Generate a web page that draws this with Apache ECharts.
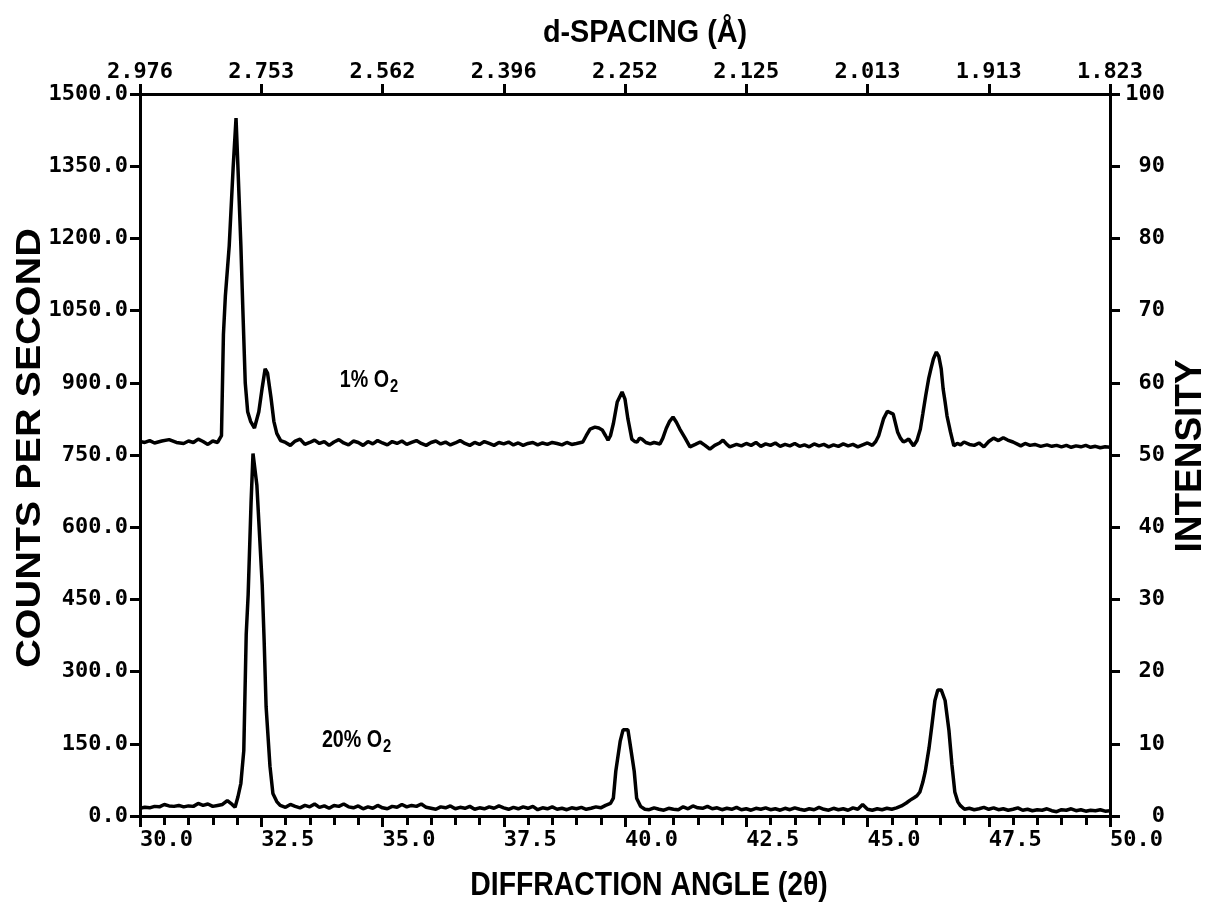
<!DOCTYPE html>
<html><head><meta charset="utf-8">
<script src="https://cdn.jsdelivr.net/npm/echarts@6/dist/echarts.min.js"></script>
<style>html,body{margin:0;padding:0;background:#fff}#c{width:1218px;height:907px}</style>
</head><body><div id="c"></div>
<script>
// 1% O2 pattern: [2-theta (deg), counts per second]
const onePctO2 = [
[30.0,778],[30.1,776],[30.2,780],[30.3,775],[30.45,779],[30.6,782],[30.75,776],[30.9,774],[31.0,779],[31.1,776],
[31.2,783],[31.3,778],[31.4,772],[31.5,779],[31.6,776],[31.68,790],[31.72,1000],[31.76,1080],[31.84,1185],[31.92,1346],
[31.98,1450],[32.02,1346],[32.08,1185],[32.12,1054],[32.17,900],[32.22,840],[32.28,820],[32.36,806],[32.45,840],[32.52,890],
[32.58,929],[32.63,920],[32.7,870],[32.76,820],[32.82,795],[32.9,780],[33.0,776],[33.1,770],[33.2,779],[33.3,783],
[33.4,772],[33.5,776],[33.6,781],[33.7,774],[33.8,778],[33.9,770],[34.0,777],[34.1,782],[34.2,775],[34.3,771],
[34.4,779],[34.5,776],[34.6,770],[34.7,778],[34.8,773],[34.9,780],[35.0,775],[35.1,771],[35.2,778],[35.3,774],
[35.4,779],[35.5,772],[35.6,776],[35.7,780],[35.8,774],[35.9,770],[36.0,776],[36.1,779],[36.2,773],[36.3,777],
[36.4,771],[36.5,775],[36.6,780],[36.7,774],[36.8,770],[36.9,776],[37.0,772],[37.1,778],[37.2,774],[37.3,770],
[37.4,776],[37.5,773],[37.6,777],[37.7,771],[37.8,775],[37.9,770],[38.0,774],[38.1,776],[38.2,771],[38.3,775],
[38.4,772],[38.5,776],[38.6,774],[38.7,771],[38.8,776],[38.9,772],[39.0,774],[39.13,777],[39.2,790],[39.28,804],
[39.38,808],[39.46,806],[39.53,802],[39.6,790],[39.65,781],[39.7,790],[39.76,815],[39.84,860],[39.94,881],[40.0,866],
[40.06,825],[40.14,783],[40.2,778],[40.25,777],[40.3,785],[40.35,783],[40.43,776],[40.52,773],[40.6,776],[40.72,773],
[40.78,785],[40.85,805],[40.92,820],[40.99,829],[41.06,818],[41.13,804],[41.24,785],[41.34,767],[41.45,772],[41.55,777],
[41.65,770],[41.75,762],[41.85,770],[41.95,775],[42.02,781],[42.1,772],[42.16,767],[42.3,772],[42.4,769],[42.5,774],
[42.6,770],[42.7,776],[42.8,768],[42.9,773],[43.0,770],[43.1,775],[43.2,768],[43.3,772],[43.4,769],[43.5,774],
[43.6,768],[43.7,771],[43.8,767],[43.9,773],[44.0,769],[44.1,772],[44.2,767],[44.3,771],[44.4,768],[44.5,773],
[44.6,769],[44.7,772],[44.8,767],[44.9,771],[45.0,775],[45.1,770],[45.17,778],[45.23,790],[45.33,825],[45.41,841],
[45.53,835],[45.62,798],[45.68,785],[45.74,777],[45.8,780],[45.85,783],[45.95,769],[46.02,780],[46.09,804],[46.14,835],
[46.2,873],[46.26,908],[46.31,930],[46.36,950],[46.42,964],[46.47,955],[46.52,929],[46.56,887],[46.6,860],[46.64,831],
[46.71,798],[46.78,769],[46.85,774],[46.92,771],[46.99,777],[47.1,772],[47.2,770],[47.3,775],[47.4,767],[47.5,778],
[47.6,785],[47.7,780],[47.8,786],[47.89,781],[48.0,777],[48.1,772],[48.16,769],[48.25,774],[48.35,770],[48.45,772],
[48.57,768],[48.7,771],[48.8,768],[48.9,770],[49.0,767],[49.1,770],[49.2,766],[49.3,769],[49.4,767],[49.5,770],
[49.6,766],[49.7,768],[49.8,765],[49.9,767],[50.0,766]
];
// 20% O2 pattern: [2-theta (deg), counts per second]
const twentyPctO2 = [
[30.0,16],[30.1,18],[30.2,17],[30.3,20],[30.4,19],[30.5,24],[30.6,21],[30.7,20],[30.8,22],[30.9,19],
[31.0,21],[31.1,20],[31.2,26],[31.3,22],[31.4,25],[31.5,20],[31.6,22],[31.7,24],[31.8,32],[31.9,24],
[31.96,18],[32.02,40],[32.08,68],[32.14,136],[32.19,377],[32.23,460],[32.29,651],[32.33,753],[32.41,687],[32.52,480],
[32.56,363],[32.6,227],[32.68,103],[32.74,47],[32.82,30],[32.89,22],[33.0,18],[33.1,24],[33.2,20],[33.3,17],
[33.4,22],[33.5,19],[33.6,25],[33.7,18],[33.8,21],[33.9,16],[34.0,22],[34.1,20],[34.2,25],[34.3,19],
[34.4,17],[34.5,21],[34.6,15],[34.7,19],[34.8,16],[34.9,22],[35.0,17],[35.1,15],[35.2,20],[35.3,18],
[35.4,24],[35.5,19],[35.6,22],[35.7,20],[35.8,25],[35.9,18],[36.0,16],[36.1,14],[36.2,19],[36.3,17],
[36.4,21],[36.5,15],[36.6,18],[36.7,16],[36.8,20],[36.9,14],[37.0,17],[37.1,15],[37.2,19],[37.3,16],
[37.4,21],[37.5,17],[37.6,14],[37.7,18],[37.8,15],[37.9,19],[38.0,16],[38.1,20],[38.2,13],[38.3,17],
[38.4,15],[38.5,19],[38.6,14],[38.7,16],[38.8,13],[38.9,17],[39.0,15],[39.1,18],[39.2,14],[39.3,16],
[39.4,19],[39.5,17],[39.6,22],[39.7,26],[39.76,37],[39.81,93],[39.9,155],[39.96,179],[40.06,179],[40.12,140],
[40.19,93],[40.24,37],[40.32,20],[40.41,14],[40.5,13],[40.6,17],[40.7,14],[40.8,12],[40.9,16],[41.0,14],
[41.1,13],[41.2,19],[41.3,15],[41.4,21],[41.5,17],[41.6,16],[41.7,20],[41.8,15],[41.9,17],[42.0,13],
[42.1,16],[42.2,14],[42.3,18],[42.4,13],[42.5,15],[42.6,12],[42.7,16],[42.8,14],[42.9,17],[43.0,13],
[43.1,15],[43.2,12],[43.3,16],[43.4,13],[43.5,17],[43.6,14],[43.7,12],[43.8,15],[43.9,13],[44.0,18],
[44.1,14],[44.2,12],[44.3,16],[44.4,13],[44.5,15],[44.6,12],[44.7,17],[44.8,14],[44.9,24],[45.0,14],
[45.1,12],[45.2,15],[45.3,13],[45.4,16],[45.5,14],[45.6,17],[45.7,21],[45.8,27],[45.88,33],[45.96,38],
[46.02,42],[46.08,50],[46.14,70],[46.19,92],[46.27,142],[46.33,190],[46.39,240],[46.45,262],[46.52,262],[46.6,240],
[46.68,177],[46.74,107],[46.8,50],[46.86,30],[46.91,22],[47.0,14],[47.1,16],[47.2,13],[47.3,15],[47.4,18],
[47.5,14],[47.6,17],[47.7,13],[47.8,15],[47.9,12],[48.0,14],[48.1,17],[48.2,12],[48.3,14],[48.4,11],
[48.5,13],[48.6,12],[48.7,15],[48.8,11],[48.9,9],[49.0,13],[49.1,12],[49.2,15],[49.3,11],[49.4,13],
[49.5,10],[49.6,12],[49.7,11],[49.8,13],[49.9,10],[50.0,11]
];
// top axis tick labels (d-spacing, Å) at each major 2-theta tick
const dSpacingLabels = ['2.976','2.753','2.562','2.396','2.252','2.125','2.013','1.913','1.823'];
const angleMin = 30, angleMax = 50, angleStep = 2.5;
const countsMax = 1500, countsStep = 150;
const intensityMax = 100, intensityStep = 10;
const sampleLabels = [
  {main: '1% O', sub: '2', at: [34.12, 905]},
  {main: '20% O', sub: '2', at: [33.75, 157]}
];

const tickFont = 'DejaVu Sans Mono';
const titleFont = '"Liberation Sans", Arial, sans-serif';
const chart = echarts.init(document.getElementById('c'));
const lineBlack = {color: '#000', width: 3};
const tickLabel = {color: '#000', fontFamily: tickFont, fontWeight: 'bold', fontSize: 22};
const option = {
  backgroundColor: '#fff',
  animation: false,
  grid: {left: 140, right: 108, top: 94, bottom: 91},
  xAxis: [
    {
      type: 'value', position: 'bottom', min: angleMin, max: angleMax, interval: angleStep,
      axisLine: {show: true, onZero: false, lineStyle: lineBlack},
      axisTick: {show: true, length: 11, lineStyle: lineBlack},
      minorTick: {show: true, splitNumber: 5, length: 9, lineStyle: lineBlack},
      splitLine: {show: false},
      axisLabel: Object.assign({formatter: v => v.toFixed(1), align: 'left', margin: 13}, tickLabel)
    },
    {
      type: 'value', position: 'top', min: angleMin, max: angleMax, interval: angleStep,
      axisLine: {show: true, onZero: false, lineStyle: lineBlack},
      axisTick: {show: true, length: 10, lineStyle: lineBlack},
      splitLine: {show: false},
      axisLabel: Object.assign({formatter: v => dSpacingLabels[Math.round((v - angleMin) / angleStep)], margin: 11}, tickLabel)
    }
  ],
  yAxis: [
    {
      type: 'value', position: 'left', min: 0, max: countsMax, interval: countsStep,
      axisLine: {show: true, onZero: false, lineStyle: lineBlack},
      axisTick: {show: true, length: 10, lineStyle: lineBlack},
      splitLine: {show: false},
      axisLabel: Object.assign({formatter: v => v.toFixed(1), margin: 12}, tickLabel)
    },
    {
      type: 'value', position: 'right', min: 0, max: intensityMax, interval: intensityStep,
      axisLine: {show: true, onZero: false, lineStyle: lineBlack},
      axisTick: {show: true, length: 10, lineStyle: lineBlack},
      splitLine: {show: false},
      axisLabel: Object.assign({align: 'right', margin: 55}, tickLabel)
    }
  ],
  series: [
    {type: 'line', name: '1% O2', data: onePctO2, xAxisIndex: 0, yAxisIndex: 0, showSymbol: false,
      lineStyle: {color: '#000', width: 3.5}, z: 3},
    {type: 'line', name: '20% O2', data: twentyPctO2, xAxisIndex: 0, yAxisIndex: 0, showSymbol: false,
      lineStyle: {color: '#000', width: 3.5}, z: 3}
  ]
};
chart.setOption(option);

const graphics = [
  {type: 'text', x: 645, y: 33, scaleX: 0.9,
    style: {text: 'd-SPACING (Å)', font: 'bold 32px ' + titleFont, fill: '#000', textAlign: 'center', textVerticalAlign: 'middle'}},
  {type: 'text', x: 649, y: 886, scaleX: 0.86,
    style: {text: 'DIFFRACTION ANGLE (2θ)', font: 'bold 33px ' + titleFont, fill: '#000', textAlign: 'center', textVerticalAlign: 'middle'}},
  {type: 'text', x: 30, y: 448, rotation: Math.PI / 2, scaleX: 1.13,
    style: {text: 'COUNTS PER SECOND', font: 'bold 35px ' + titleFont, fill: '#000', textAlign: 'center', textVerticalAlign: 'middle'}},
  {type: 'text', x: 1191, y: 456, rotation: Math.PI / 2,
    style: {text: 'INTENSITY', font: 'bold 37px ' + titleFont, fill: '#000', textAlign: 'center', textVerticalAlign: 'middle'}}
];
const mainFont = 'bold 24px "Liberation Sans"';
const subFont = 'bold 18px "Liberation Sans"';
const labelScale = 0.82;
const measureCtx = document.createElement('canvas').getContext('2d');
measureCtx.font = mainFont;
sampleLabels.forEach(s => {
  const p = chart.convertToPixel({xAxisIndex: 0, yAxisIndex: 0}, s.at);
  const w = measureCtx.measureText(s.main).width * labelScale;
  graphics.push({type: 'text', x: p[0], y: p[1], scaleX: labelScale,
    style: {text: s.main, font: mainFont, fill: '#000', textAlign: 'left', textVerticalAlign: 'middle'}});
  graphics.push({type: 'text', x: p[0] + w + 1, y: p[1] + 7, scaleX: labelScale,
    style: {text: s.sub, font: subFont, fill: '#000', textAlign: 'left', textVerticalAlign: 'middle'}});
});
chart.setOption({graphic: graphics});
</script>
</body></html>
